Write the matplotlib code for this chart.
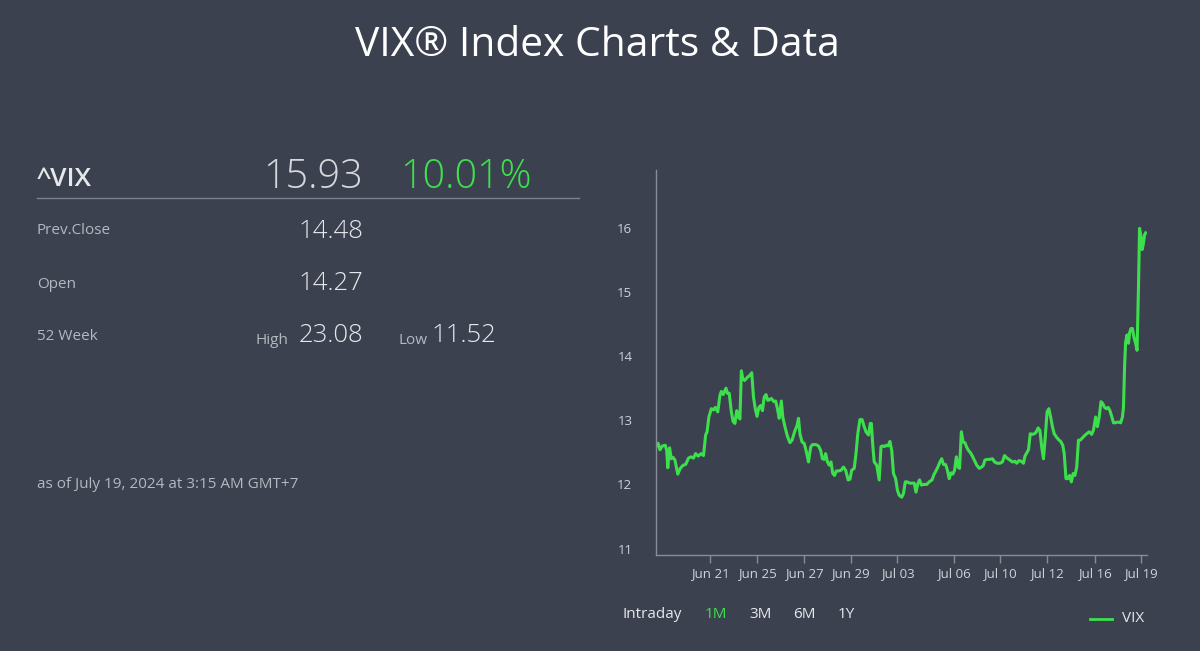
import matplotlib
matplotlib.use("Agg")
import matplotlib.pyplot as plt
from matplotlib.lines import Line2D

plt.rcParams['font.family'] = ['Open Sans', 'DejaVu Sans']

# session position (trading-time index) and VIX level
session_pos = [160, 163, 168, 175, 183, 187, 190, 195, 200, 205, 210, 218, 225, 233, 240, 248, 255, 262,
               268, 275, 283, 290, 296, 300, 305, 312, 318, 323, 330, 336, 340, 345, 350, 353, 357, 362,
               368, 373, 378, 383, 388, 392, 396, 400, 405, 410, 415, 420, 425, 430, 435, 440, 445, 450,
               455, 460, 465, 470, 475, 480, 487, 492, 497, 502, 508, 512, 518, 525, 532, 538, 545, 552,
               556, 560, 566, 572, 578, 584, 590, 595, 605, 612, 618, 623, 628, 632, 637, 642, 647, 652,
               657, 662, 668, 675, 682, 688, 695, 700, 705, 712, 717, 722, 728, 734, 740, 745, 752, 757,
               760, 764, 768, 775, 782, 787, 793, 797, 802, 807, 812, 817, 822, 828, 833, 838, 845, 850,
               855, 860, 867, 875, 880, 885, 890, 895, 900, 907, 915, 922, 930, 935, 940, 947, 952, 957,
               962, 968, 973, 978, 983, 988, 993, 998, 1003, 1007, 1012, 1017, 1022, 1027, 1032, 1038,
               1043, 1048, 1055, 1062, 1068, 1073, 1078, 1085, 1092, 1099, 1105, 1112, 1120, 1127, 1133,
               1140, 1148, 1155, 1162, 1167, 1173, 1180, 1186, 1190, 1195, 1200, 1205, 1210, 1217, 1222,
               1227, 1232, 1237, 1242, 1247, 1252, 1257, 1262, 1267, 1272, 1278, 1284, 1290, 1296, 1300,
               1305, 1310, 1315, 1320, 1325, 1330, 1335, 1340, 1345, 1350, 1357, 1363, 1370, 1377, 1382,
               1388, 1393, 1398, 1403, 1408, 1413, 1418, 1423, 1428, 1433, 1438, 1443, 1448, 1453, 1458,
               1463, 1466, 1469, 1472, 1476, 1480, 1483, 1487, 1491, 1495, 1500, 1504, 1508, 1511, 1515,
               1518, 1521, 1525, 1528]
vix = [12.61, 12.64, 12.54, 12.60, 12.61, 12.53, 12.26, 12.57, 12.40, 12.42, 12.38, 12.16, 12.25, 12.30,
       12.31, 12.41, 12.43, 12.41, 12.48, 12.44, 12.48, 12.45, 12.77, 12.82, 13.05, 13.18, 13.16, 13.20,
       13.13, 13.39, 13.45, 13.40, 13.46, 13.50, 13.42, 13.42, 13.13, 12.98, 12.95, 13.15, 13.05, 13.02,
       13.77, 13.65, 13.62, 13.65, 13.68, 13.70, 13.74, 13.36, 13.18, 13.06, 13.20, 13.23, 13.15, 13.36,
       13.40, 13.31, 13.32, 13.34, 13.29, 13.30, 13.18, 13.03, 13.30, 13.05, 12.90, 12.75, 12.65, 12.69,
       12.82, 12.92, 13.03, 12.79, 12.66, 12.64, 12.51, 12.35, 12.58, 12.62, 12.62, 12.60, 12.53, 12.40,
       12.39, 12.48, 12.35, 12.30, 12.35, 12.17, 12.14, 12.21, 12.21, 12.22, 12.27, 12.22, 12.07, 12.08,
       12.22, 12.25, 12.48, 12.79, 13.01, 13.01, 12.90, 12.82, 12.77, 12.95, 12.95, 12.61, 12.35, 12.30,
       12.07, 12.59, 12.60, 12.59, 12.61, 12.60, 12.67, 12.53, 12.17, 12.09, 11.91, 11.83, 11.80, 11.86,
       12.04, 12.04, 12.02, 12.02, 12.02, 11.88, 12.01, 12.07, 11.99, 12.00, 12.00, 12.04, 12.07, 12.15,
       12.20, 12.28, 12.35, 12.40, 12.31, 12.31, 12.22, 12.09, 12.18, 12.16, 12.22, 12.43, 12.27, 12.25,
       12.82, 12.66, 12.65, 12.58, 12.53, 12.49, 12.44, 12.38, 12.30, 12.25, 12.27, 12.29, 12.38, 12.39,
       12.39, 12.40, 12.35, 12.33, 12.33, 12.35, 12.45, 12.41, 12.38, 12.35, 12.36, 12.33, 12.37, 12.36,
       12.33, 12.44, 12.49, 12.54, 12.79, 12.78, 12.79, 12.82, 12.88, 12.84, 12.58, 12.40, 12.74, 13.13,
       13.18, 13.05, 12.90, 12.79, 12.74, 12.70, 12.67, 12.61, 12.48, 12.09, 12.09, 12.14, 12.04, 12.17,
       12.14, 12.27, 12.69, 12.69, 12.72, 12.76, 12.79, 12.82, 12.78, 12.85, 13.05, 12.90, 13.05, 13.29,
       13.26, 13.20, 13.18, 13.20, 13.15, 13.06, 12.96, 12.96, 12.97, 12.97, 12.96, 13.05, 13.20, 13.83,
       14.22, 14.33, 14.20, 14.36, 14.43, 14.43, 14.30, 14.20, 14.09, 15.08, 15.99, 15.86, 15.66, 15.73,
       15.89, 15.92]

tick_pos = [309, 440, 572, 702, 833, 992, 1121, 1253, 1385, 1514]
tick_labels = ['Jun 21', 'Jun 25', 'Jun 27', 'Jun 29', 'Jul 03', 'Jul 06', 'Jul 10', 'Jul 12', 'Jul 16', 'Jul 19']
y_ticks = [11, 12, 13, 14, 15, 16]

quote_rows = [('Prev.Close', '14.48'), ('Open', '14.27')]
last_price = '15.93'
change_pct = '10.01%'
week52_high = '23.08'
week52_low = '11.52'
ranges = ['Intraday', '1M', '3M', '6M', '1Y']
active_range = '1M'

BG = '#3c4150'
GREEN = '#3de04c'
TXT = '#e6e8eb'
MUTED = '#b4b8c0'

W, H = 1200, 651
fig = plt.figure(figsize=(12, 6.51), dpi=100, facecolor=BG)


def fx(px):
    return px / W


def fy(py):
    return 1 - py / H


# title
fig.text(fx(597), fy(46), 'VIX® Index Charts & Data', ha='center', va='center',
         fontsize=29.3, color='white')

# quote panel
fig.text(fx(37), fy(179), '^VIX', ha='left', va='center', fontsize=19, fontweight='semibold', color=TXT)
fig.text(fx(363), fy(177), last_price, ha='right', va='center', fontsize=28.5, fontweight='light', color='#d6d8dc')
fig.text(fx(400), fy(177), change_pct, ha='left', va='center', fontsize=28.5, fontweight='light', color=GREEN)
fig.add_artist(Line2D([fx(37), fx(579)], [fy(198), fy(198)], color='#7d828d', lw=1))

for i, (label, val) in enumerate(quote_rows):
    yy = 231 + i * 53
    fig.text(fx(37), fy(yy), label, ha='left', va='center', fontsize=11, color=MUTED)
    fig.text(fx(363), fy(yy), val, ha='right', va='center', fontsize=18.5, fontweight='light', color=TXT)

fig.text(fx(37), fy(336), '52 Week', ha='left', va='center', fontsize=11, color=MUTED)
fig.text(fx(288), fy(340), 'High', ha='right', va='center', fontsize=11, color=MUTED)
fig.text(fx(363), fy(336), week52_high, ha='right', va='center', fontsize=18.5, fontweight='light', color=TXT)
fig.text(fx(399), fy(340), 'Low', ha='left', va='center', fontsize=11, color=MUTED)
fig.text(fx(431), fy(336), week52_low, ha='left', va='center', fontsize=18.5, fontweight='light', color=TXT)

fig.text(fx(37), fy(484), 'as of July 19, 2024 at 3:15 AM GMT+7', ha='left', va='center',
         fontsize=11, color=MUTED)

# chart
ax = fig.add_axes([fx(656), fy(555), fx(1146.7) - fx(656), (555 - 170) / H])
ax.set_facecolor(BG)
ax.plot(session_pos, vix, color=GREEN, lw=2.2, solid_joinstyle='round')
ax.set_xlim(157, 1531)
ax.set_ylim(10.9, 16.9)
ax.set_xticks(tick_pos)
ax.set_xticklabels(tick_labels)
ax.set_yticks(y_ticks)
for s in ['top', 'right']:
    ax.spines[s].set_visible(False)
for s in ['left', 'bottom']:
    ax.spines[s].set_color('#878c96')
    ax.spines[s].set_linewidth(1)
ax.tick_params(axis='x', colors='#878c96', length=6, width=1, labelcolor='#d0d3d8', labelsize=9.5, pad=3)
ax.tick_params(axis='y', length=0, labelcolor='#d0d3d8', labelsize=9.5, pad=17)

# range selector
range_x = [623, 705, 749, 793, 838]
for name, xx in zip(ranges, range_x):
    fig.text(fx(xx), fy(614), name, ha='left', va='center', fontsize=11,
             color=GREEN if name == active_range else TXT)

# legend
fig.add_artist(Line2D([fx(1090), fx(1112)], [fy(619), fy(619)], color=GREEN, lw=2))
fig.text(fx(1122), fy(619), 'VIX', ha='left', va='center', fontsize=11, color=TXT)

fig.savefig('out.png', dpi=100, facecolor=BG)
